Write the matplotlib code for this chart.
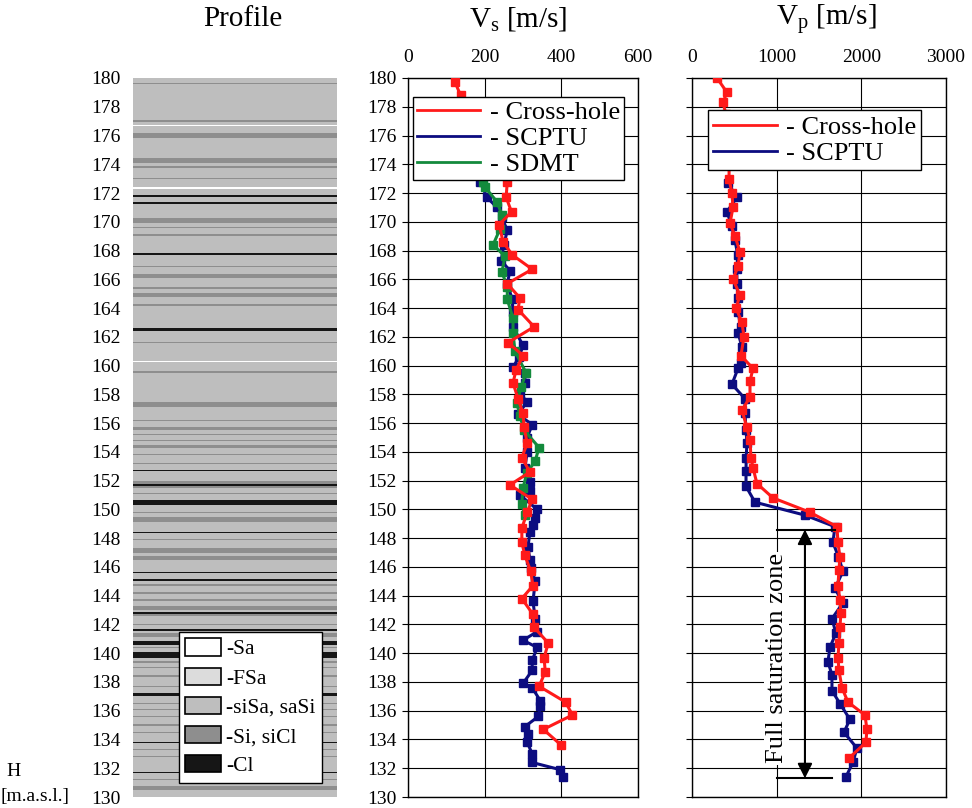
import matplotlib
matplotlib.use('Agg')
import matplotlib.pyplot as plt
from matplotlib.lines import Line2D
from matplotlib.patches import Patch
import numpy as np

plt.rcParams['font.family'] = ['Liberation Serif', 'DejaVu Serif']
plt.rcParams['mathtext.fontset'] = 'custom'
plt.rcParams['mathtext.rm'] = 'Liberation Serif'
plt.rcParams['mathtext.it'] = 'Liberation Serif:italic'

# ---------------- data ----------------
depth_ticks = list(range(130, 181, 2))

# soil classes
soil_keys = ['Sa', 'FSa', 'siSa', 'Si', 'Cl']
soil_labels = ['-Sa', '-FSa', '-siSa, saSi', '-Si, siCl', '-Cl']
soil_colors = {'Sa': '#ffffff', 'FSa': '#dcdcdc', 'siSa': '#bebebe',
               'Si': '#8e8e8e', 'Cl': '#161616'}

# profile layers (top, bottom, class)
layer_top = [180.0, 179.65, 177.05, 176.75, 176.2, 174.45, 173.85, 173.05, 172.4, 171.85,
             171.35, 170.25, 169.65, 169.15, 167.8, 166.95, 166.35, 165.45, 165.05, 164.25,
             162.6, 161.65, 160.35, 159.6, 157.5, 156.25, 155.75, 155.25, 154.85, 154.5,
             153.85, 153.25, 152.75, 151.95, 151.75, 151.15, 150.65, 149.85, 149.5, 148.45,
             147.95, 147.35, 146.75, 145.65, 145.15, 144.8, 144.25, 143.75, 143.25, 142.85,
             142.7, 142.05, 141.65, 141.4, 140.85, 140.45, 140.05, 139.45, 139.05, 138.45,
             137.75, 137.25, 136.55, 136.15, 135.65, 135.05, 134.55, 133.85, 133.35, 132.85,
             131.75, 131.25, 130.75]
layer_bot = [130.0, 179.55, 176.95, 176.65, 175.8, 174.1, 173.75, 172.95, 172.3, 171.72,
             171.25, 169.9, 169.55, 169.0, 167.7, 166.85, 166.1, 165.35, 164.8, 164.12,
             162.4, 161.55, 160.25, 159.5, 157.1, 156.15, 155.5, 155.15, 154.75, 154.3,
             153.75, 153.15, 152.65, 151.5, 151.65, 151.05, 150.3, 149.75, 149.1, 148.35,
             147.85, 147.0, 146.5, 145.55, 145.05, 144.7, 144.15, 143.65, 143.0, 142.75,
             142.6, 141.95, 141.55, 141.1, 140.6, 140.35, 139.7, 139.35, 138.95, 138.35,
             137.65, 137.0, 136.45, 136.05, 135.55, 134.95, 134.45, 133.75, 133.25, 132.75,
             131.65, 131.15, 130.5]
layer_cls = ['siSa', 'Si', 'Si', 'Sa', 'Si', 'Si', 'Si', 'Si', 'Sa', 'Cl',
             'Cl', 'Si', 'Si', 'Si', 'Cl', 'Si', 'Si', 'Si', 'Si', 'Si',
             'Cl', 'Si', 'Sa', 'Si', 'Si', 'Si', 'Si', 'Si', 'Si', 'Si',
             'Si', 'Si', 'Cl', 'Si', 'Cl', 'Si', 'Cl', 'Si', 'Si', 'Cl',
             'Si', 'Si', 'Si', 'Cl', 'Cl', 'Si', 'Si', 'Si', 'Si', 'Cl',
             'Si', 'Si', 'Cl', 'Si', 'Cl', 'Si', 'Cl', 'Si', 'Si', 'Si',
             'Si', 'Cl', 'Si', 'Si', 'Si', 'Si', 'Si', 'Cl', 'Si', 'Si',
             'Cl', 'Si', 'Si']

# Vs [m/s]
vs_cross_h = [179.7, 178.8, 177.8, 176.8, 175.8, 174.8, 173.8, 172.8, 171.7, 170.7, 169.8, 168.6,
              167.7, 166.7, 165.7, 164.7, 163.9, 162.7, 161.6, 160.7, 159.7, 158.8, 157.7, 156.7,
              155.7, 154.6, 153.6, 152.6, 151.7, 150.7, 149.8, 148.7, 147.7, 146.8, 145.7, 144.7,
              143.8, 142.7, 141.8, 140.7, 139.7, 138.7, 137.7, 136.6, 135.7, 134.7, 133.6]
vs_cross_v = [123, 137, 150, 175, 200, 225, 245, 259, 256, 270, 238, 248,
              272, 324, 259, 292, 287, 329, 261, 300, 282, 274, 287, 300,
              303, 311, 297, 318, 266, 324, 311, 297, 297, 305, 320, 326,
              297, 326, 329, 366, 355, 358, 342, 411, 429, 353, 400]

vs_scptu_h = [173.4, 172.8, 171.7, 171.0, 170.3, 169.4, 168.4, 167.3, 166.6, 165.7, 164.6, 163.7,
              162.7, 161.4, 160.6, 159.9, 159.5, 158.8, 158.0, 157.5, 156.6, 155.9, 155.0, 154.0,
              152.9, 151.9, 151.3, 151.0, 150.0, 149.4, 148.9, 148.4, 147.4, 146.5, 145.9, 145.0,
              143.6, 142.4, 141.5, 140.9, 140.4, 139.5, 138.8, 137.9, 137.6, 136.7, 136.3, 135.6,
              134.9, 134.4, 133.8, 133.0, 132.4, 131.9, 131.4]
vs_scptu_v = [183, 188, 206, 232, 245, 259, 250, 243, 266, 259, 272, 274,
              274, 300, 290, 274, 305, 305, 292, 311, 287, 324, 311, 311,
              305, 318, 318, 292, 337, 332, 326, 318, 313, 318, 321, 332,
              326, 332, 337, 300, 337, 324, 324, 300, 324, 345, 345, 340,
              305, 313, 311, 324, 324, 397, 405]

vs_sdmt_h = [172.8, 172.4, 171.4, 170.5, 169.5, 168.4, 167.6, 166.5, 165.5, 164.6, 163.3, 162.3,
             161.0, 159.5, 158.5, 157.4, 156.5, 155.5, 154.3, 153.4, 152.5, 151.5, 150.4, 149.6]
vs_sdmt_v = [195, 201, 232, 245, 240, 222, 253, 245, 259, 259, 274, 274,
             279, 308, 295, 284, 292, 303, 342, 332, 310, 300, 297, 305]

# Vp [m/s]
vp_cross_h = [180.0, 179.0, 178.3, 177.5, 176.5, 175.5, 174.5, 173.0, 172.0, 171.0, 169.9, 169.0,
              167.9, 166.9, 166.0, 164.9, 164.0, 163.0, 162.0, 160.7, 159.8, 158.9, 157.8, 156.9,
              155.7, 154.8, 153.6, 152.9, 151.8, 150.8, 149.8, 148.8, 147.7, 146.7, 145.8, 144.7,
              143.7, 142.8, 141.8, 140.7, 139.7, 138.8, 137.6, 136.6, 135.7, 134.7, 133.8, 132.7]
vp_cross_v = [295, 413, 366, 400, 420, 430, 440, 437, 472, 484, 449, 508,
              567, 543, 484, 567, 520, 590, 614, 578, 720, 685, 685, 590,
              649, 685, 697, 720, 767, 956, 1393, 1712, 1724, 1747, 1736, 1724,
              1747, 1759, 1747, 1736, 1724, 1736, 1771, 1842, 2043, 2066, 2054, 1854]

vp_scptu_h = [172.7, 171.7, 170.7, 169.7, 168.7, 167.7, 166.7, 165.7, 164.7, 163.7, 162.7, 162.3,
              161.3, 160.2, 159.8, 158.7, 157.7, 156.7, 155.5, 154.6, 153.6, 152.7, 151.6, 150.5,
              149.6, 148.8, 147.7, 146.7, 145.7, 144.5, 143.5, 142.4, 141.4, 140.4, 139.4, 138.5,
              137.4, 136.5, 135.4, 134.5, 133.4, 132.4, 131.4]
vp_scptu_v = [425, 531, 413, 470, 508, 540, 530, 530, 543, 543, 578, 543,
              590, 578, 543, 472, 626, 626, 638, 649, 640, 638, 638, 744,
              1334, 1688, 1665, 1730, 1783, 1688, 1783, 1653, 1700, 1629, 1606, 1653,
              1653, 1747, 1865, 1795, 1948, 1901, 1818]

sat_top = 148.6
sat_bottom = 131.3

vs_ticks = [0, 200, 400, 600]
vp_ticks = [0, 1000, 2000, 3000]

# ---------------- style ----------------
RED = '#ff1a1a'
BLUE = '#0c0c80'
GREEN = '#138a3c'
TICK_FS = 14

fig = plt.figure(figsize=(9.72, 8.08), dpi=100)
W, H = 972.0, 808.0


def axes_px(x0, x1, y0, y1):
    return fig.add_axes([x0 / W, 1 - y1 / H, (x1 - x0) / W, (y1 - y0) / H])


# ---------------- Profile ----------------
ax0 = axes_px(133, 337, 78, 797)
top = np.array(layer_top)
bot = np.array(layer_bot)
cols = [soil_colors[c] for c in layer_cls]
ax0.barh(y=(top + bot) / 2, width=1.0, height=top - bot, left=0, color=cols,
         edgecolor='none', linewidth=0)
ax0.set_xlim(0, 1)
ax0.set_ylim(130, 180)
ax0.set_yticks(depth_ticks)
ax0.set_xticks([])
ax0.tick_params(axis='y', length=0, pad=9, labelsize=TICK_FS)
for s in ax0.spines.values():
    s.set_visible(False)
handles = [Patch(facecolor=soil_colors[k], edgecolor='k', linewidth=1.2) for k in soil_keys]
leg0 = ax0.legend(handles, soil_labels, loc='upper left', bbox_to_anchor=(0.225, 0.2295),
                  fontsize=15.5, frameon=True, fancybox=False, edgecolor='k', framealpha=1,
                  borderpad=0.3, handlelength=1.65, handleheight=0.85, handletextpad=0.25,
                  labelspacing=0.38, borderaxespad=0)
leg0.get_frame().set_linewidth(1.0)

# ---------------- Vs ----------------
ax1 = axes_px(408, 638, 78, 797)
mk = dict(marker='s', markersize=6, linewidth=2.2)
ax1.plot(vs_scptu_v, vs_scptu_h, color=BLUE, zorder=3, **mk)
ax1.plot(vs_sdmt_v, vs_sdmt_h, color=GREEN, zorder=4, **mk)
ax1.plot(vs_cross_v, vs_cross_h, color=RED, zorder=5, **mk)
ax1.set_xlim(0, 600)
ax1.set_ylim(130, 180)
ax1.set_xticks(vs_ticks)
ax1.set_yticks(depth_ticks)
ax1.xaxis.set_ticks_position('top')
ax1.tick_params(axis='x', length=0, pad=9, labelsize=TICK_FS)
ax1.tick_params(axis='y', direction='out', length=4, width=0.8, pad=4, labelsize=TICK_FS)
ax1.grid(True, color='k', linewidth=0.8, zorder=1)
ax1.set_axisbelow(True)
for s in ax1.spines.values():
    s.set_linewidth(1.0)
lh = [Line2D([], [], color=RED, lw=2), Line2D([], [], color=BLUE, lw=2),
      Line2D([], [], color=GREEN, lw=2)]
leg1 = ax1.legend(lh, ['- Cross-hole', '- SCPTU', '- SDMT'], loc='upper left',
                  bbox_to_anchor=(0.022, 0.974), fontsize=19, frameon=True, fancybox=False,
                  edgecolor='k', framealpha=1, borderpad=0.15, handlelength=2.4,
                  handletextpad=0.35, labelspacing=0.1, borderaxespad=0)
leg1.get_frame().set_linewidth(1.0)
leg1.set_zorder(10)

# ---------------- Vp ----------------
ax2 = axes_px(692, 946, 78, 797)
ax2.plot(vp_scptu_v, vp_scptu_h, color=BLUE, zorder=3, **mk)
ax2.plot(vp_cross_v, vp_cross_h, color=RED, zorder=4, **mk)
ax2.set_xlim(0, 3000)
ax2.set_ylim(130, 180)
ax2.set_xticks(vp_ticks)
ax2.set_yticks(depth_ticks)
ax2.set_yticklabels([])
ax2.xaxis.set_ticks_position('top')
ax2.tick_params(axis='x', length=0, pad=9, labelsize=TICK_FS)
ax2.tick_params(axis='y', direction='out', length=4, width=0.8)
ax2.grid(True, color='k', linewidth=0.8, zorder=1)
ax2.set_axisbelow(True)
for s in ax2.spines.values():
    s.set_linewidth(1.0)
lh2 = [Line2D([], [], color=RED, lw=2), Line2D([], [], color=BLUE, lw=2)]
leg2 = ax2.legend(lh2, ['- Cross-hole', '- SCPTU'], loc='upper left',
                  bbox_to_anchor=(0.063, 0.9555), fontsize=19, frameon=True, fancybox=False,
                  edgecolor='k', framealpha=1, borderpad=0.2, handlelength=2.4,
                  handletextpad=0.35, labelspacing=0.1, borderaxespad=0)
leg2.get_frame().set_linewidth(1.0)
leg2.set_zorder(10)

# saturation zone annotation
ax2.plot([1000, 1690], [sat_top, sat_top], color='k', lw=1.5, zorder=6)
ax2.plot([1000, 1650], [sat_bottom, sat_bottom], color='k', lw=1.5, zorder=6)
ax2.annotate('', xy=(1334, sat_bottom), xytext=(1334, sat_top),
             arrowprops=dict(arrowstyle='<|-|>', color='k', lw=1.5, mutation_scale=22,
                             shrinkA=0, shrinkB=0), zorder=6)
ax2.text(1000, (sat_top + sat_bottom) / 2 - 0.3, 'Full saturation zone', rotation=90,
         ha='center', va='center', fontsize=19, zorder=7,
         bbox=dict(facecolor='white', edgecolor='none', pad=1))

# ---------------- titles / labels ----------------
fig.text(243 / W, 1 - 19 / H, 'Profile', ha='center', va='center', fontsize=21)
fig.text(518 / W, 1 - 19 / H, r'V$_{\mathrm{s}}$ [m/s]', ha='center', va='center', fontsize=21)
fig.text(826 / W, 1 - 19 / H, r'V$_{\mathrm{p}}$ [m/s]', ha='center', va='center', fontsize=21)
fig.text(14 / W, 1 - 772 / H, 'H', ha='center', va='center', fontsize=14)
fig.text(1 / W, 1 - 797 / H, '[m.a.s.l.]', ha='left', va='center', fontsize=14)

fig.savefig('out.png', dpi=100)
